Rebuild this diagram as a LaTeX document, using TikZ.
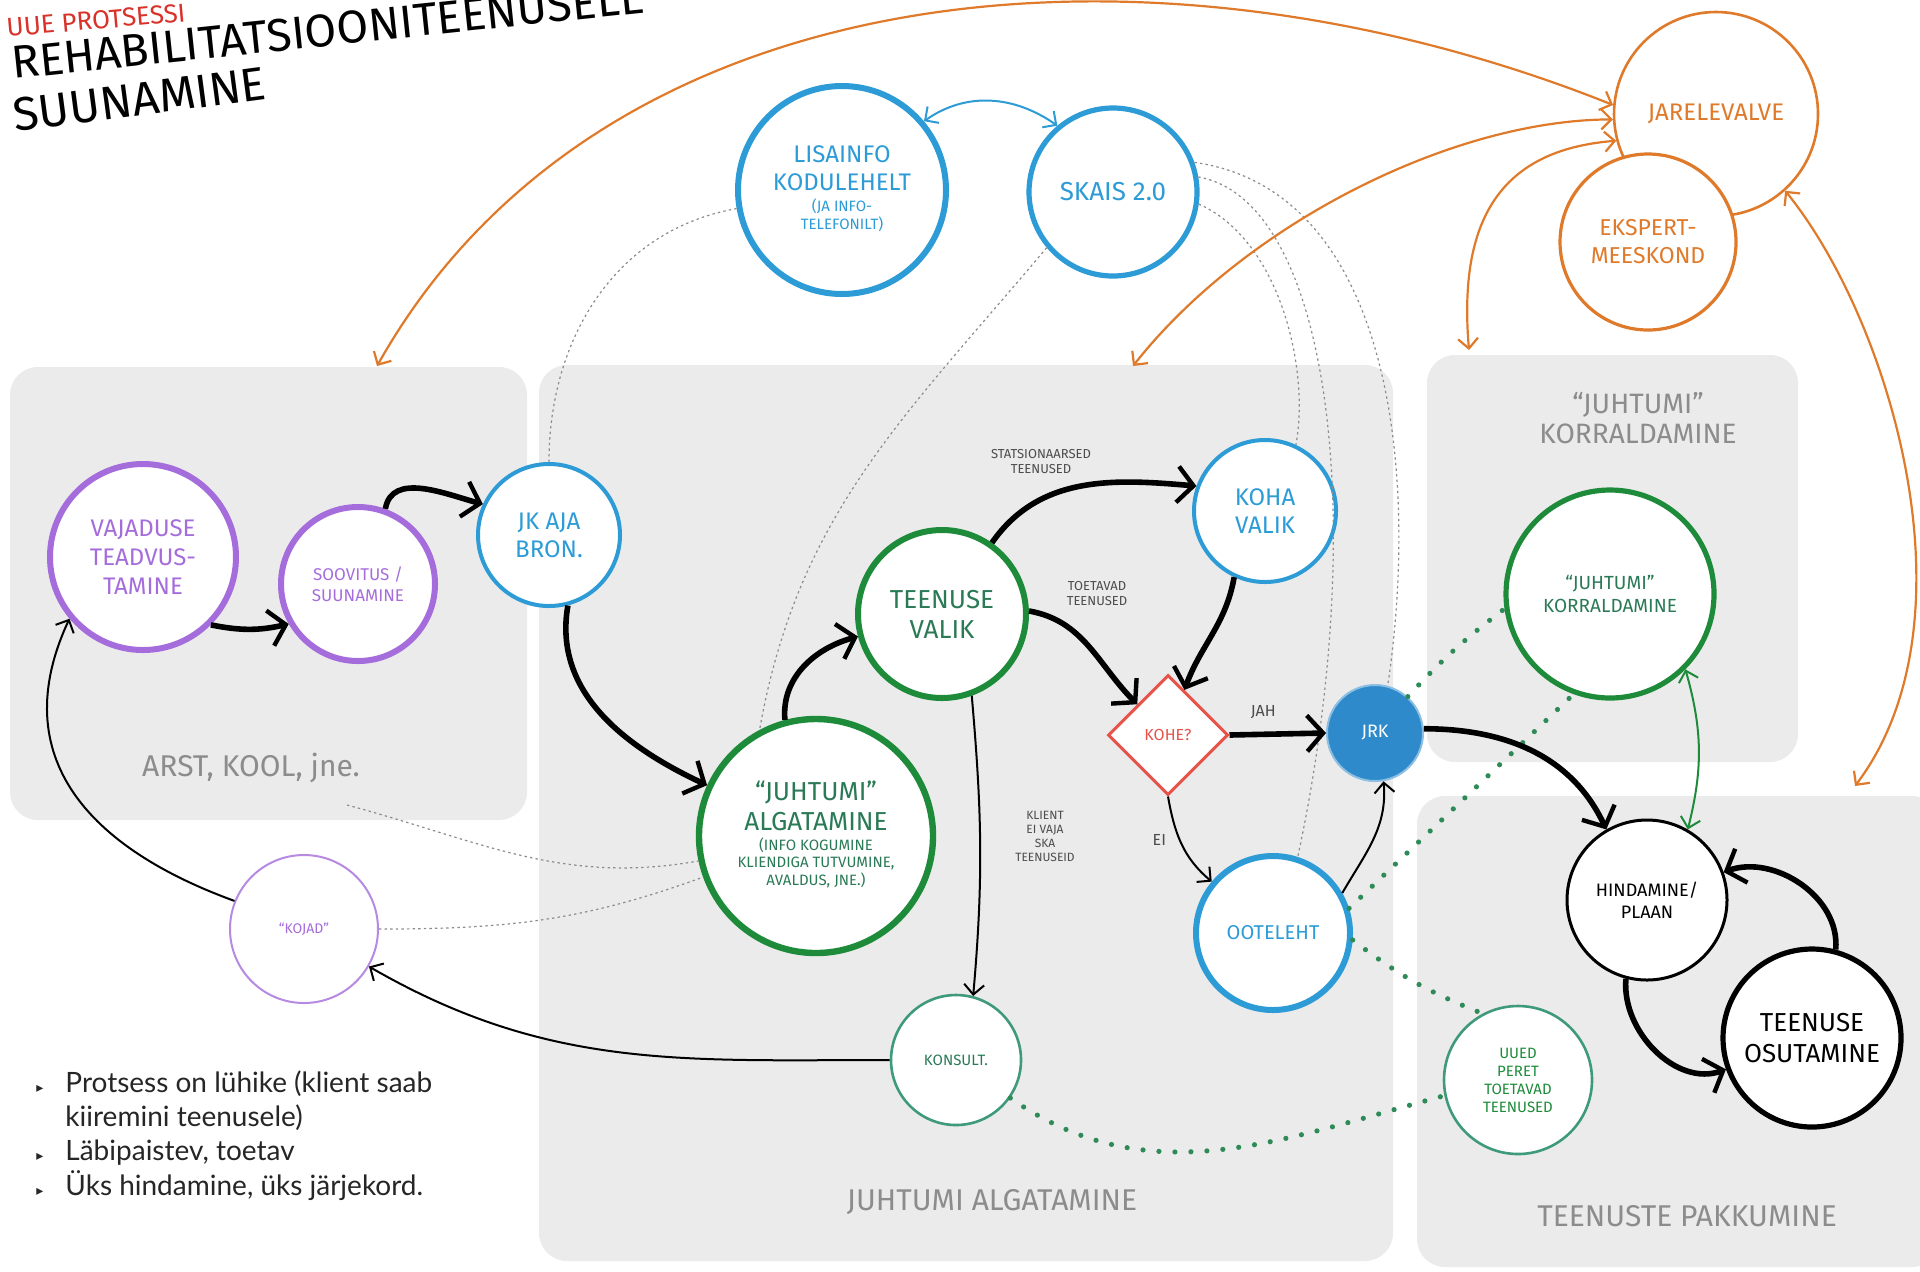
\documentclass[tikz,border=0pt]{standalone}
\usepackage{fontspec}
\setmainfont{Fira Sans}
\newfontfamily\bulletfont{Lato}
\newfontfamily\symfont{DejaVu Sans}
\usetikzlibrary{arrows.meta,shapes.geometric}

\definecolor{panelgray}{HTML}{EBEBEB}
\definecolor{paneltext}{HTML}{8C8C8C}
\definecolor{infoblue}{HTML}{2C9BD6}
\definecolor{jrkblue}{HTML}{2E8ACB}
\definecolor{needpurple}{HTML}{A56DDB}
\definecolor{circgreen}{HTML}{1E8B3B}
\definecolor{txtgreen}{HTML}{2B7A56}
\definecolor{tealgreen}{HTML}{3F9A7A}
\definecolor{dotgreen}{HTML}{2E8B57}
\definecolor{careorange}{HTML}{E07A2B}
\definecolor{checkred}{HTML}{E5534B}
\definecolor{titlered}{HTML}{D8322B}

\newcommand{\subblock}[1]{{\fontsize{7.5}{8.5}\selectfont\begin{tabular}[t]{@{}c@{}}#1\end{tabular}}}
\newcommand{\bulletmark}{{\symfont\fontsize{7}{7}\selectfont ▸}}

\tikzset{
  panel/.style={fill=panelgray, rounded corners=14pt},
  paneltitle/.style={text=paneltext, align=center, font=\fontsize{15}{16}\selectfont},
  bubble/.style={circle, draw, fill=white, inner sep=0pt, align=center},
  flow/.style={draw=black, line width=2.8pt, -{Straight Barb[length=8pt,width=18pt,line width=2.2pt]}},
  thinflow/.style={draw=black, line width=1pt, -{Straight Barb[length=5pt,width=10pt,line width=1pt]}},
  care/.style={draw=careorange, line width=1.1pt, {Straight Barb[length=5pt,width=10pt]}-{Straight Barb[length=5pt,width=10pt]}},
  twoway/.style={line width=1pt, {Straight Barb[length=5pt,width=10pt]}-{Straight Barb[length=5pt,width=10pt]}},
  infolink/.style={draw=black!45, line width=0.6pt, dash pattern=on 1.2pt off 1.6pt},
  greendots/.style={draw=dotgreen, line width=2.6pt, line cap=round, dash pattern=on 0pt off 8pt},
  edgenote/.style={text=black!70, align=center, font=\fontsize{6.5}{7.5}\selectfont},
}

\begin{document}
\begin{tikzpicture}[x=0.5pt,y=0.5pt]
  \useasboundingbox (0,0) rectangle (1920,-1271);
  \clip (0,0) rectangle (1920,-1271);
  \fill[white] (0,0) rectangle (1920,-1271);

  % panels
  \fill[panel] (10,-367) rectangle (527,-820);
  \fill[panel] (539,-365) rectangle (1393,-1261);
  \fill[panel] (1427,-355) rectangle (1798,-762);
  \fill[panel] (1417,-796) rectangle (1940,-1267);
  \node[paneltitle] (armtitle) at (251,-768) {ARST, KOOL, jne.};
  \node[paneltitle] (algtitle) at (992,-1202) {JUHTUMI ALGATAMINE};
  \node[paneltitle, font=\fontsize{14}{15}\selectfont] (korrtitle) at (1638,-418) {“JUHTUMI”\\KORRALDAMINE};
  \node[paneltitle] (pakktitle) at (1687,-1216) {TEENUSTE PAKKUMINE};

  % title
  \node[anchor=base west, rotate=5, inner sep=0pt, text=titlered, font=\fontsize{13}{15}\selectfont] (subtitle) at (7,-37) {UUE PROTSESSI};
  \node[anchor=base west, rotate=6, inner sep=0pt, font=\fontsize{23}{25}\selectfont] (title) at (13,-79) {REHABILITATSIOONITEENUSELE};
  \node[anchor=base west, rotate=7.5, inner sep=0pt, font=\fontsize{23.5}{26}\selectfont] (titletwo) at (15,-132) {SUUNAMINE};

  % notes
  \node[anchor=north west, inner sep=0pt, text=black!85, font=\bulletfont\fontsize{14}{17}\selectfont] (notes) at (36,-1068)
    {\begin{tabular}{@{}l@{\hspace{11pt}}l@{}}
      \bulletmark & Protsess on lühike (klient saab\\
                  & kiiremini teenusele)\\
      \bulletmark & Läbipaistev, toetav\\
      \bulletmark & Üks hindamine, üks järjekord.
     \end{tabular}};

  \coordinate (armtop) at (377,-366);
  \coordinate (algtop) at (1133,-366);
  \coordinate (korrtop) at (1469,-350);
  \coordinate (pakktop) at (1855,-786);
  \coordinate (armnote) at (347,-805);

  % nodes
  \node[bubble, draw=careorange, line width=1.3pt, minimum size=102pt, text=careorange, font=\fontsize{12}{14}\selectfont] (jarel) at (1716,-114) {JARELEVALVE};
  \node[bubble, draw=careorange, line width=1.6pt, minimum size=88pt, text=careorange, font=\fontsize{11.5}{14}\selectfont] (ekspert) at (1648,-242) {EKSPERT-\\MEESKOND};
  \node[bubble, draw=infoblue, line width=3pt, minimum size=104pt, text=infoblue, font=\fontsize{12}{14}\selectfont] (lisainfo) at (842,-190)
    {LISAINFO\\KODULEHELT\\[-3.5pt]\subblock{(JA INFO-\\TELEFONILT)}};
  \node[bubble, draw=infoblue, line width=2.6pt, minimum size=84pt, text=infoblue, font=\fontsize{13}{15}\selectfont] (skais) at (1113,-192) {SKAIS 2.0};
  \node[bubble, draw=needpurple, line width=3pt, minimum size=93pt, text=needpurple, font=\fontsize{12}{14.5}\selectfont] (vaj) at (143,-557) {VAJADUSE\\TEADVUS-\\TAMINE};
  \node[bubble, draw=needpurple, line width=3pt, minimum size=77pt, text=needpurple, font=\fontsize{8.5}{10.5}\selectfont] (soov) at (358,-584) {SOOVITUS /\\SUUNAMINE};
  \node[bubble, draw=infoblue, line width=2pt, minimum size=71pt, text=infoblue, font=\fontsize{12}{14}\selectfont] (jkaja) at (549,-535) {JK AJA\\BRON.};
  \node[bubble, draw=circgreen, line width=3pt, minimum size=84pt, text=txtgreen, font=\fontsize{13}{15}\selectfont] (tvalik) at (942,-614) {TEENUSE\\VALIK};
  \node[bubble, draw=circgreen, line width=3.2pt, minimum size=117pt, text=txtgreen, font=\fontsize{13}{15}\selectfont] (algat) at (816,-836)
    {“JUHTUMI”\\ALGATAMINE\\[-5pt]\subblock{(INFO KOGUMINE\\KLIENDIGA TUTVUMINE,\\AVALDUS, JNE.)}};
  \node[bubble, draw=infoblue, line width=2pt, minimum size=71pt, text=infoblue, font=\fontsize{12}{14}\selectfont] (koha) at (1265,-511) {KOHA\\VALIK};
  \node[diamond, draw=checkred, fill=white, line width=1.5pt, aspect=1, minimum width=60pt, minimum height=60pt, inner sep=0pt, text=checkred, font=\fontsize{8}{9}\selectfont] (kohe) at (1168,-735) {KOHE?};
  \node[circle, fill=jrkblue, draw=jrkblue!55!white, line width=1pt, minimum size=48pt, inner sep=0pt, text=white, font=\fontsize{9}{10}\selectfont] (jrk) at (1375,-733) {JRK};
  \node[bubble, draw=infoblue, line width=3pt, minimum size=77pt, text=infoblue, font=\fontsize{10}{12}\selectfont] (oote) at (1273,-933) {OOTELEHT};
  \node[bubble, draw=tealgreen, line width=1.3pt, minimum size=65pt, text=txtgreen, font=\fontsize{7.5}{9}\selectfont] (konsult) at (956,-1060) {KONSULT.};
  \node[bubble, draw=needpurple!80, line width=1pt, minimum size=74pt, text=needpurple, font=\fontsize{7}{8}\selectfont] (kojad) at (304,-929) {“KOJAD”};
  \node[bubble, draw=circgreen, line width=2.6pt, minimum size=104pt, text=txtgreen, font=\fontsize{9.5}{11.5}\selectfont] (korr) at (1610,-594) {“JUHTUMI”\\KORRALDAMINE};
  \node[bubble, draw=black, line width=1.5pt, minimum size=80pt, font=\fontsize{9}{11}\selectfont] (hind) at (1647,-900) {HINDAMINE/\\PLAAN};
  \node[bubble, draw=black, line width=2.6pt, minimum size=89pt, font=\fontsize{13}{15.5}\selectfont] (osut) at (1812,-1038) {TEENUSE\\OSUTAMINE};
  \node[bubble, draw=tealgreen, line width=1.3pt, minimum size=74pt, text=circgreen, font=\fontsize{7.5}{9}\selectfont] (uued) at (1518,-1080) {UUED\\PERET\\TOETAVAD\\TEENUSED};

  % info links
  \draw[infolink] (lisainfo.190) to[out=190,in=90] (jkaja.north);
  \draw[infolink] (skais.-140) to[out=-130,in=80] (algat.118);
  \draw[infolink] (skais.-8) .. controls (1280,-240) and (1310,-370) .. (koha.65);
  \draw[infolink] (skais.10) .. controls (1330,-200) and (1370,-520) .. (oote.72);
  \draw[infolink] (skais.20) .. controls (1390,-190) and (1420,-470) .. (jrk.75);
  \draw[infolink] (armnote) to[out=-15,in=190] (algat.192);
  \draw[infolink] (kojad.0) to[out=0,in=200] (algat.200);

  % green dots
  \draw[greendots] (jrk.48) to[bend left=5] (korr.188);
  \draw[greendots] (oote.18) -- (korr.-110);
  \draw[greendots] (oote.-5) to[bend right=8] (uued.118);
  \draw[greendots] (konsult.-35) to[out=-35,in=195] (uued.192);

  % follow-up
  \draw[care] (armtop) .. controls (600,30) and (1150,80) .. (jarel.175);
  \draw[care] (algtop) .. controls (1243,-226) and (1450,-120) .. (jarel.183);
  \draw[care] (korrtop) .. controls (1458,-220) and (1500,-150) .. (jarel.195);
  \draw[care] (jarel.-48) .. controls (1890,-320) and (1980,-620) .. (pakktop);
  \draw[twoway, draw=infoblue] (lisainfo.40) to[out=35,in=145] (skais.130);

  % flow
  \draw[flow] (vaj.-45) to[bend right=12] (soov.-150);
  \draw[flow] (soov.70) to[out=80,in=165] (jkaja.155);
  \draw[flow] (jkaja.-75) to[out=-100,in=155] (algat.155);
  \draw[flow] (algat.105) to[out=95,in=195] (tvalik.195);
  \draw[flow] (tvalik.55) to[out=55,in=175] (koha.160);
  \draw[flow] (tvalik.2) to[out=-10,in=135] (kohe.north west);
  \draw[flow] (koha.-115) to[out=-100,in=70] (kohe.70);
  \draw[flow] (kohe.east) -- node[pos=0.35, above=3pt, edgenote, font=\fontsize{8}{9}\selectfont] {JAH} (jrk.west);
  \draw[thinflow] (kohe.south) to[out=-80,in=140] node[pos=0.45, left=3pt, edgenote, font=\fontsize{8}{9}\selectfont] {EI} (oote.140);
  \draw[thinflow] (oote.30) to[out=60,in=-85] (jrk.-80);
  \draw[thinflow] (tvalik.-70) to[out=-85,in=85] (konsult.75);
  \draw[thinflow] (konsult.180) to[out=180,in=-30] (kojad.-30);
  \draw[thinflow] (kojad.158) to[out=160,in=-115,looseness=1.2] (vaj.-140);
  \draw[flow] (jrk.5) to[out=0,in=115] (hind.120);
  \draw[flow] (hind.-105) to[out=-95,in=200] (osut.200);
  \draw[flow] (osut.75) to[out=85,in=20] (hind.20);
  \draw[twoway, draw=circgreen] (korr.-45) to[bend left=15] (hind.60);

  % edge notes
  \node[edgenote] (statnote) at (1041,-462) {STATSIONAARSED\\TEENUSED};
  \node[edgenote] (toetnote) at (1097,-594) {TOETAVAD\\TEENUSED};
  \node[edgenote, font=\fontsize{6}{7}\selectfont] (klientnote) at (1045,-836) {KLIENT\\EI VAJA\\SKA\\TEENUSEID};
\end{tikzpicture}
\end{document}
